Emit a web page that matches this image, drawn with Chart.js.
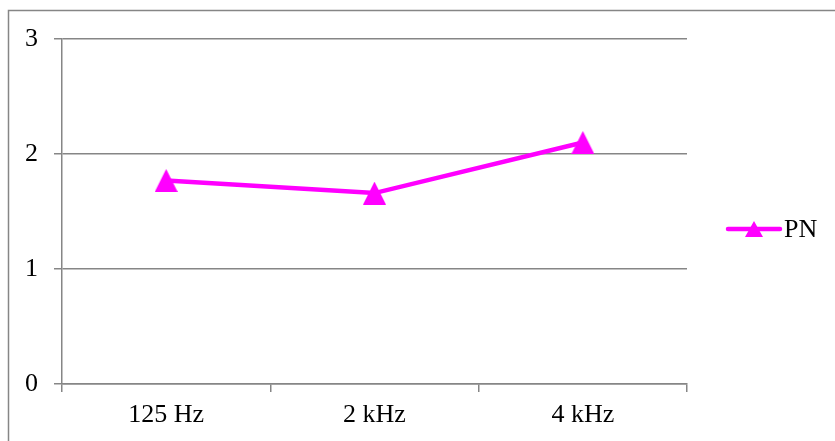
<!DOCTYPE html>
<html>
<head>
<meta charset="utf-8">
<title>PN</title>
<script src="https://cdn.jsdelivr.net/npm/chart.js@4.4.1/dist/chart.umd.min.js"></script>
<style>
  html, body { margin: 0; padding: 0; background: #ffffff; }
  #c { display: block; }
</style>
</head>
<body>
<canvas id="c" width="835" height="441"></canvas>
<script>
// Categories and series values
const categories = ['125 Hz', '2 kHz', '4 kHz'];
const seriesLabel = 'PN';
const pnValues = [1.77, 1.66, 2.10];
const yTicks = [0, 1, 2, 3];

const MAGENTA = '#ff00ff';
const GRID = '#868686';
const FONT = "'Liberation Serif', 'Times New Roman', serif";

// Triangle marker drawn on a small canvas, centered on its bounding box
function makeTriangle(w, h) {
  const cv = document.createElement('canvas');
  cv.width = w; cv.height = h;
  const g = cv.getContext('2d');
  g.fillStyle = MAGENTA;
  g.beginPath();
  g.moveTo(w / 2, 0);
  g.lineTo(w, h);
  g.lineTo(0, h);
  g.closePath();
  g.fill();
  return cv;
}
const triMarker = makeTriangle(23, 23);
const triLegend = makeTriangle(18, 16);

// Outer frame and right-hand legend
const framePlugin = {
  id: 'frameAndLegend',
  afterDraw(chart) {
    const ctx = chart.ctx;
    ctx.save();
    ctx.strokeStyle = GRID;
    ctx.lineWidth = 1.5;
    ctx.beginPath();
    ctx.moveTo(8.5, chart.height + 2);
    ctx.lineTo(8.5, 10.5);
    ctx.lineTo(chart.width + 2, 10.5);
    ctx.stroke();

    // legend entry
    const ly = 229;
    ctx.strokeStyle = MAGENTA;
    ctx.lineWidth = 4.5;
    ctx.lineCap = 'round';
    ctx.beginPath();
    ctx.moveTo(728, ly);
    ctx.lineTo(780, ly);
    ctx.stroke();
    ctx.drawImage(triLegend, 754 - 9, ly - 8);
    ctx.fillStyle = '#000000';
    ctx.font = '26px ' + FONT;
    ctx.textBaseline = 'middle';
    ctx.textAlign = 'left';
    ctx.fillText(chart.data.datasets[0].label, 784, ly + 1);
    ctx.restore();
  }
};

new Chart(document.getElementById('c'), {
  type: 'line',
  data: {
    labels: categories,
    datasets: [{
      label: seriesLabel,
      data: pnValues,
      borderColor: MAGENTA,
      backgroundColor: MAGENTA,
      borderWidth: 4.5,
      pointStyle: triMarker,
      pointRadius: 12,
      pointHoverRadius: 12,
      tension: 0,
      fill: false
    }]
  },
  options: {
    responsive: false,
    animation: false,
    events: [],
    layout: { padding: { top: 39, right: 148, left: 0, bottom: 0 } },
    plugins: {
      legend: { display: false },
      tooltip: { enabled: false }
    },
    scales: {
      x: {
        offset: true,
        grid: {
          offset: true,
          drawOnChartArea: false,
          drawTicks: true,
          tickLength: 8,
          color: GRID,
          lineWidth: 1.5
        },
        border: { display: true, color: GRID, width: 1.5 },
        ticks: {
          color: '#000000',
          padding: 8,
          maxRotation: 0,
          font: { family: FONT, size: 26 }
        },
        afterFit(scale) { scale.height = 57; }
      },
      y: {
        min: 0,
        max: 3,
        afterBuildTicks(scale) { scale.ticks = yTicks.map(v => ({ value: v })); },
        grid: {
          color: GRID,
          lineWidth: 1.5,
          drawTicks: true,
          tickLength: 8
        },
        border: { display: true, color: GRID, width: 1.5 },
        ticks: {
          color: '#000000',
          padding: 16,
          font: { family: FONT, size: 26 }
        },
        afterFit(scale) { scale.width = 62; }
      }
    }
  },
  plugins: [framePlugin]
});
</script>
</body>
</html>
